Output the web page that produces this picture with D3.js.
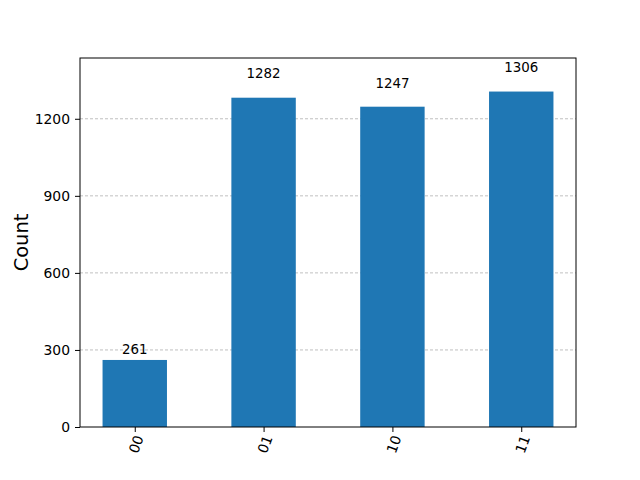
<!DOCTYPE html>
<html>
<head>
<meta charset="utf-8">
<script src="https://cdn.jsdelivr.net/npm/d3@7"></script>
<style>
  body { margin: 0; background: #fff; }
  svg text { font-family: "DejaVu Sans", sans-serif; }
</style>
</head>
<body>
<div id="chart"></div>
<script>
var states = ["00", "01", "10", "11"];
var counts = [261, 1282, 1247, 1306];
var yTicks = [0, 300, 600, 900, 1200];

var width = 640;
var height = 480;
var margin = { top: 58, right: 64, bottom: 53, left: 80 };
var innerW = width - margin.left - margin.right;
var innerH = height - margin.top - margin.bottom;

var svg = d3.select("#chart")
  .append("svg")
  .attr("width", width)
  .attr("height", height);

var g = svg.append("g")
  .attr("transform", "translate(" + margin.left + "," + margin.top + ")");

// scales (matplotlib style: bar width 0.5, 5% margins)
var xScale = d3.scaleLinear()
  .domain([-0.425, states.length - 1 + 0.425])
  .range([0, innerW]);

var yScale = d3.scaleLinear()
  .domain([0, d3.max(counts) * 1.1])
  .range([innerH, 0]);

// grid
g.selectAll(".grid")
  .data(yTicks.slice(1))
  .enter()
  .append("line")
  .attr("x1", 0)
  .attr("x2", innerW)
  .attr("y1", d => yScale(d))
  .attr("y2", d => yScale(d))
  .attr("stroke", "#b0b0b0")
  .attr("stroke-width", 0.8)
  .attr("stroke-dasharray", "3,2");

// bars
g.selectAll("rect")
  .data(counts)
  .enter()
  .append("rect")
  .attr("x", (d, i) => xScale(i - 0.25))
  .attr("y", d => yScale(d))
  .attr("width", xScale(0.5) - xScale(0))
  .attr("height", d => innerH - yScale(d))
  .attr("fill", "#1f77b4");

// value labels
g.selectAll(".val")
  .data(counts)
  .enter()
  .append("text")
  .attr("x", (d, i) => xScale(i))
  .attr("y", d => yScale(d * 1.05) - 3)
  .attr("text-anchor", "middle")
  .attr("font-size", "13.4px")
  .text(d => d);

// axes
var yAxis = d3.axisLeft(yScale)
  .tickValues(yTicks)
  .tickFormat(d3.format("d"))
  .tickSize(5)
  .tickPadding(5);

var yAxisG = g.append("g").call(yAxis);
yAxisG.select(".domain").remove();
yAxisG.selectAll("text").attr("font-size", "13.9px").attr("fill", "#000");

var xAxis = d3.axisBottom(xScale)
  .tickValues(d3.range(states.length))
  .tickFormat(i => states[i])
  .tickSize(5);

var xAxisG = g.append("g")
  .attr("transform", "translate(0," + innerH + ")")
  .call(xAxis);
xAxisG.select(".domain").remove();
xAxisG.selectAll("text")
  .attr("font-size", "13.9px")
  .attr("fill", "#000")
  .attr("text-anchor", "end")
  .attr("dy", "0.35em")
  .attr("x", 0)
  .attr("y", 0)
  .attr("transform", "translate(4,9) rotate(-70)");

// frame
g.append("rect")
  .attr("width", innerW)
  .attr("height", innerH)
  .attr("fill", "none")
  .attr("stroke", "#000")
  .attr("stroke-width", 1);

// y label
svg.append("text")
  .attr("transform", "translate(28," + (margin.top + innerH / 2) + ") rotate(-90)")
  .attr("text-anchor", "middle")
  .attr("font-size", "19.4px")
  .text("Count");
</script>
</body>
</html>
